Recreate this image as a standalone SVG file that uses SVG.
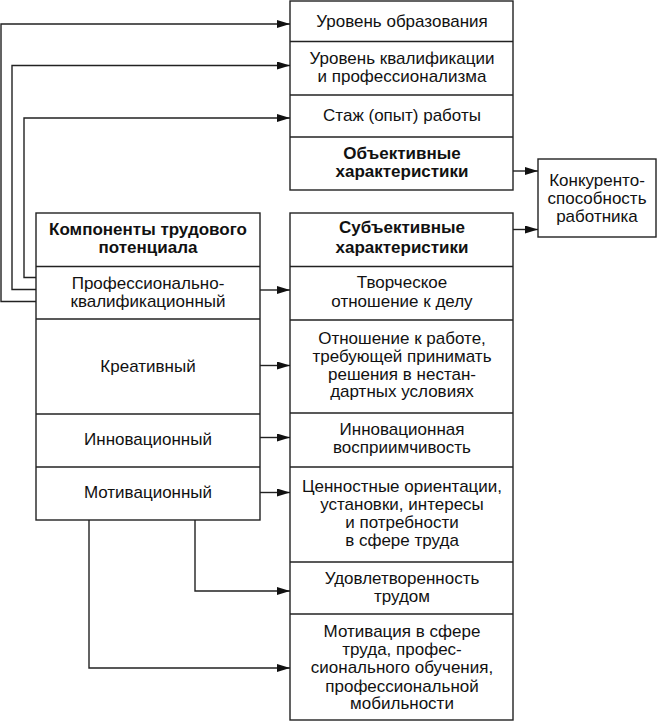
<svg xmlns="http://www.w3.org/2000/svg" width="657" height="722" viewBox="0 0 657 722">
<style>
  .box{fill:#fff;stroke:#222;stroke-width:1.4}
  .sep{stroke:#222;stroke-width:1.4;fill:none}
  .t{font-family:"Liberation Sans",Arial,sans-serif;font-size:17px;fill:#111;text-anchor:middle}
  .b{font-weight:bold}
  .c{stroke:#222;stroke-width:1.4;fill:none}
</style>
<defs>
  <marker id="ah" markerWidth="13" markerHeight="8" refX="13" refY="4" orient="auto" markerUnits="userSpaceOnUse">
    <path d="M0,0 L13,4 L0,8 Z" fill="#111"/>
  </marker>
</defs>
<rect width="657" height="722" fill="#fff"/>

<g id="objective">
  <rect class="box" x="290" y="1" width="223" height="189"/>
  <line class="sep" x1="290" y1="41.5" x2="513" y2="41.5"/>
  <line class="sep" x1="290" y1="95" x2="513" y2="95"/>
  <line class="sep" x1="290" y1="137" x2="513" y2="137"/>
  <text class="t" x="402" y="26.5">Уровень образования</text>
  <text class="t" x="402" y="64">Уровень квалификации</text>
  <text class="t" x="402" y="81.5">и профессионализма</text>
  <text class="t" x="402" y="120.5">Стаж (опыт) работы</text>
  <text class="t b" x="402" y="159">Объективные</text>
  <text class="t b" x="402" y="177">характеристики</text>
</g>

<g id="competitiveness">
  <rect class="box" x="538" y="159" width="118" height="78"/>
  <text class="t" x="597" y="185.5">Конкуренто-</text>
  <text class="t" x="597" y="203.5">способность</text>
  <text class="t" x="597" y="221.5">работника</text>
</g>

<g id="components">
  <rect class="box" x="36" y="213" width="224" height="307"/>
  <line class="sep" x1="36" y1="266.5" x2="260" y2="266.5"/>
  <line class="sep" x1="36" y1="319" x2="260" y2="319"/>
  <line class="sep" x1="36" y1="414" x2="260" y2="414"/>
  <line class="sep" x1="36" y1="467" x2="260" y2="467"/>
  <text class="t b" x="148" y="235">Компоненты трудового</text>
  <text class="t b" x="148" y="253">потенциала</text>
  <text class="t" x="148" y="289">Профессионально-</text>
  <text class="t" x="148" y="306.5">квалификационный</text>
  <text class="t" x="148" y="371.5">Креативный</text>
  <text class="t" x="148" y="445">Инновационный</text>
  <text class="t" x="148" y="498">Мотивационный</text>
</g>

<g id="subjective">
  <rect class="box" x="290" y="213" width="223" height="507"/>
  <line class="sep" x1="290" y1="266.5" x2="513" y2="266.5"/>
  <line class="sep" x1="290" y1="320" x2="513" y2="320"/>
  <line class="sep" x1="290" y1="413" x2="513" y2="413"/>
  <line class="sep" x1="290" y1="467" x2="513" y2="467"/>
  <line class="sep" x1="290" y1="562" x2="513" y2="562"/>
  <line class="sep" x1="290" y1="614" x2="513" y2="614"/>
  <text class="t b" x="402" y="233">Субъективные</text>
  <text class="t b" x="402" y="253">характеристики</text>
  <text class="t" x="402" y="288">Творческое</text>
  <text class="t" x="402" y="306.5">отношение к делу</text>
  <text class="t" x="402" y="344">Отношение к работе,</text>
  <text class="t" x="402" y="361.5">требующей принимать</text>
  <text class="t" x="402" y="379.5">решения в нестан-</text>
  <text class="t" x="402" y="397">дартных условиях</text>
  <text class="t" x="402" y="435">Инновационная</text>
  <text class="t" x="402" y="453">восприимчивость</text>
  <text class="t" x="402" y="491.5">Ценностные ориентации,</text>
  <text class="t" x="402" y="509.5">установки, интересы</text>
  <text class="t" x="402" y="527.5">и потребности</text>
  <text class="t" x="402" y="545.5">в сфере труда</text>
  <text class="t" x="402" y="584">Удовлетворенность</text>
  <text class="t" x="402" y="601.5">трудом</text>
  <text class="t" x="402" y="636.5">Мотивация в сфере</text>
  <text class="t" x="402" y="655">труда, профес-</text>
  <text class="t" x="402" y="673">сионального обучения,</text>
  <text class="t" x="402" y="691.5">профессиональной</text>
  <text class="t" x="402" y="709">мобильности</text>
</g>

<g id="connectors">
  <polyline class="c" points="36,301.5 1,301.5 1,24 290,24" marker-end="url(#ah)"/>
  <polyline class="c" points="36,289.5 12,289.5 12,65.5 290,65.5" marker-end="url(#ah)"/>
  <polyline class="c" points="36,277.5 24,277.5 24,118 290,118" marker-end="url(#ah)"/>
  <line class="c" x1="513" y1="171" x2="538" y2="171" marker-end="url(#ah)"/>
  <line class="c" x1="513" y1="229.5" x2="538" y2="229.5" marker-end="url(#ah)"/>
  <line class="c" x1="260" y1="290" x2="290" y2="290" marker-end="url(#ah)"/>
  <line class="c" x1="260" y1="365.5" x2="290" y2="365.5" marker-end="url(#ah)"/>
  <line class="c" x1="260" y1="437.5" x2="290" y2="437.5" marker-end="url(#ah)"/>
  <line class="c" x1="260" y1="492.5" x2="290" y2="492.5" marker-end="url(#ah)"/>
  <polyline class="c" points="195,520 195,591 290,591" marker-end="url(#ah)"/>
  <polyline class="c" points="89,520 89,668 290,668" marker-end="url(#ah)"/>
</g>
</svg>
